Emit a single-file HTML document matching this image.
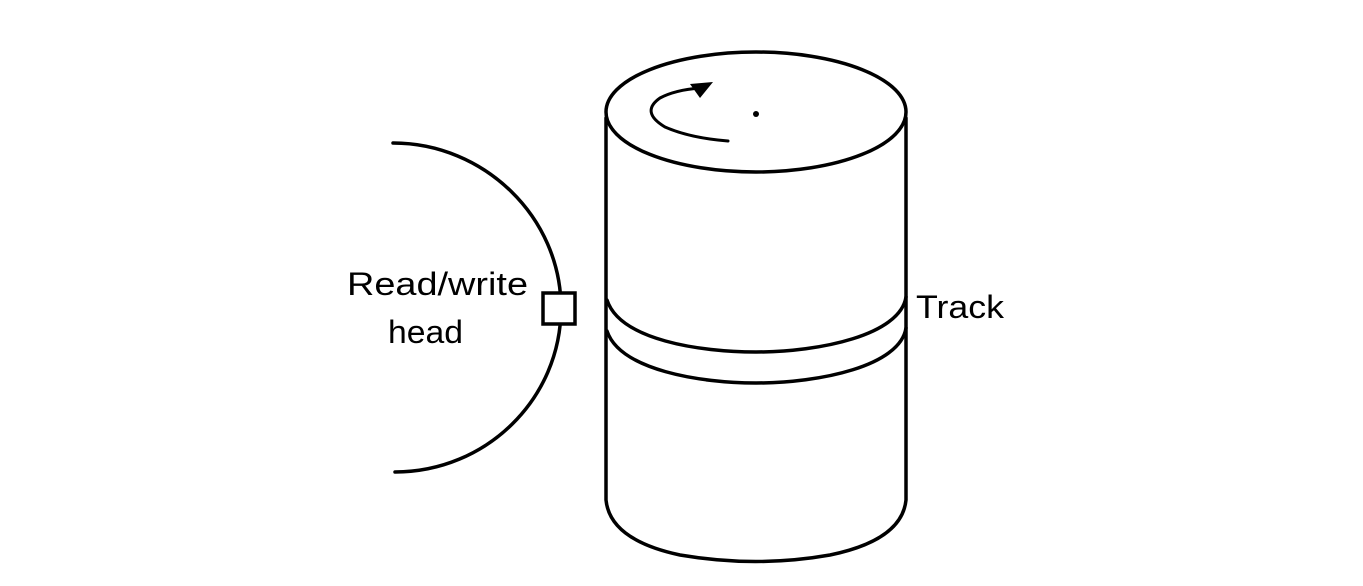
<!DOCTYPE html>
<html><head><style>
html,body{margin:0;padding:0;background:#fff;}
svg{display:block;}
text{font-family:"Liberation Sans",sans-serif;font-size:32px;fill:#000;}
</style></head><body>
<svg width="1363" height="586" viewBox="0 0 1363 586">
<g fill="none" stroke="#000" stroke-width="3.5" stroke-linecap="round">
<path d="M393 143 C484 143 561 217 561 308 C561 399 486 472 395 472"/>
<ellipse cx="756" cy="112" rx="150" ry="60"/>
<path d="M606 118 L606 500 Q610 540 680 555 Q756 568 830 555 Q902 540 906 500 L906 118"/>
<path d="M607 300 C620 340 700 352 756 352 C820 352 900 335 906 297"/>
<path d="M607 331 C620 370 700 383 756 383 C820 383 900 366 906 328"/>
<path d="M728 141 Q690 138 665 127 Q640 112 660 98 Q675 90 700 88" stroke-width="3"/>
</g>
<polygon points="713,82 690,84 700,98" fill="#000"/>
<circle cx="756" cy="114" r="3" fill="#000"/>
<rect x="543" y="293" width="32" height="31" fill="#fff" stroke="#000" stroke-width="3.5"/>
<text x="347" y="295" textLength="181" lengthAdjust="spacingAndGlyphs">Read/write</text>
<text x="388" y="343" textLength="75" lengthAdjust="spacingAndGlyphs">head</text>
<text x="916" y="318" textLength="88" lengthAdjust="spacingAndGlyphs">Track</text>
</svg>
</body></html>
